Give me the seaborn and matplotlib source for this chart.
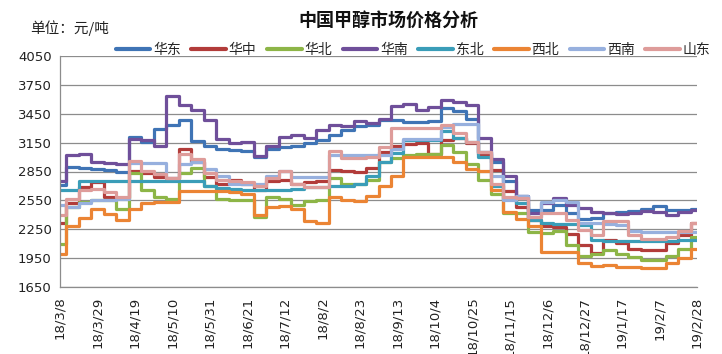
import pandas as pd
import matplotlib
matplotlib.use("Agg")
import matplotlib.pyplot as plt
from matplotlib.lines import Line2D
import seaborn as sns

# Weekly methanol prices by region (yuan/ton), Thursdays 2018-03-08 .. 2019-02-28
week_start = "2018-03-08"
week_end = "2019-02-28"

regions = ["华东", "华中", "华北", "华南", "东北", "西北", "西南", "山东"]

huadong = [2710, 2900, 2890, 2880, 2870, 2850, 3210, 3160, 3290, 3330,
           3380, 3170, 3120, 3080, 3070, 3060, 3000, 3080, 3100, 3110,
           3150, 3180, 3230, 3280, 3320, 3330, 3390, 3380, 3360, 3360,
           3370, 3510, 3480, 3400, 3050, 2950, 2750, 2600, 2450, 2450,
           2500, 2420, 2360, 2370, 2420, 2430, 2440, 2460, 2490, 2450,
           2450, 2460]
huazhong = [2320, 2520, 2690, 2740, 2580, 2570, 2860, 2830, 2790, 2780,
            3080, 2950, 2790, 2720, 2760, 2720, 2660, 2750, 2760, 2720,
            2740, 2750, 2870, 2860, 2850, 2890, 3050, 3110, 3140, 3150,
            3030, 3180, 3200, 3150, 3030, 2870, 2650, 2480, 2350, 2280,
            2270, 2200, 2090, 2000, 2140, 2110, 2040, 2030, 2030, 2110,
            2190, 2320]
huabei = [2100, 2480, 2530, 2550, 2550, 2460, 2830, 2660, 2590, 2560,
          2830, 2890, 2700, 2560, 2550, 2550, 2380, 2580, 2560, 2500,
          2540, 2550, 2780, 2720, 2720, 2760, 2950, 2990, 3020, 3030,
          3030, 3130, 3050, 2930, 2760, 2620, 2420, 2420, 2220, 2210,
          2230, 2090, 1970, 1990, 2030, 1990, 1960, 1930, 1930, 1970,
          2040, 2170]
huanan = [2750, 3020, 3030, 2950, 2940, 2930, 3190, 3180, 3110, 3630,
          3540, 3490, 3380, 3190, 3150, 3160, 3010, 3120, 3210, 3230,
          3200, 3280, 3330, 3320, 3370, 3350, 3400, 3530, 3550, 3490,
          3520, 3590, 3570, 3540, 3200, 2980, 2800, 2600, 2420, 2520,
          2570, 2500, 2470, 2430, 2420, 2410, 2420, 2440, 2430, 2400,
          2430, 2450]
dongbei = [2660, 2660, 2750, 2750, 2750, 2750, 2750, 2750, 2750, 2750,
           2750, 2750, 2700, 2680, 2670, 2660, 2660, 2660, 2660, 2670,
           2690, 2690, 2700, 2700, 2720, 2800, 2950, 3040, 3180, 3180,
           3180, 3270, 3200, 3160, 3000, 2700, 2560, 2520, 2350, 2310,
           2300, 2300, 2290, 2140, 2130, 2130, 2130, 2130, 2130, 2130,
           2140, 2140]
xibei = [1990, 2280, 2370, 2460, 2410, 2350, 2460, 2520, 2530, 2530,
         2650, 2650, 2650, 2650, 2640, 2620, 2400, 2480, 2490, 2460,
         2340, 2310, 2590, 2550, 2540, 2600, 2700, 2800, 3000, 3000,
         3000, 3000, 2950, 2880, 2860, 2660, 2430, 2360, 2280, 2010,
         2010, 2010, 1900, 1870, 1880, 1860, 1860, 1850, 1850, 1900,
         1950, 2050]
xinan = [2500, 2480, 2520, 2550, 2550, 2560, 2940, 2940, 2940, 2780,
         2930, 2950, 2880, 2800, 2720, 2720, 2720, 2800, 2860, 2790,
         2790, 2790, 3020, 3020, 3020, 3020, 3020, 3080, 3190, 3190,
         3190, 3310, 3340, 3340, 3050, 2800, 2550, 2600, 2380, 2530,
         2550, 2530, 2320, 2310, 2300, 2290, 2230, 2220, 2220, 2220,
         2220, 2220]
shandong = [2400, 2560, 2660, 2670, 2640, 2580, 2960, 2860, 2820, 2780,
            3030, 2980, 2830, 2760, 2750, 2740, 2700, 2780, 2860, 2720,
            2690, 2690, 3060, 2990, 2990, 3000, 3100, 3300, 3300, 3300,
            3300, 3330, 3250, 3160, 3050, 2720, 2580, 2570, 2380, 2420,
            2420, 2350, 2240, 2190, 2340, 2340, 2190, 2150, 2150, 2170,
            2230, 2310]

tick_labels = ["18/3/8", "18/3/29", "18/4/19", "18/5/10", "18/5/31", "18/6/21",
               "18/7/12", "18/8/2", "18/8/23", "18/9/13", "18/10/4", "18/10/25",
               "18/11/15", "18/12/6", "18/12/27", "19/1/17", "19/2/7", "19/2/28"]
y_ticks = [1650, 1950, 2250, 2550, 2850, 3150, 3450, 3750, 4050]

colors = ["#3F74B5", "#B23C3A", "#8DB547", "#6F4F9A",
          "#3A9DB8", "#EB8434", "#97B0DE", "#DE9C9A"]

series = [huadong, huazhong, huabei, huanan, dongbei, xibei, xinan, shandong]
dates = pd.date_range(week_start, week_end, freq="7D")
frames = [pd.DataFrame({"日期": dates, "地区": name, "价格": vals})
          for name, vals in zip(regions, series)]
df = pd.concat(frames, ignore_index=True)

sns.set_style("white")
cjk = ["Noto Sans CJK SC", "DejaVu Sans"]
plt.rcParams["font.family"] = cjk

fig = plt.figure(figsize=(7.22, 3.54), dpi=100)
ax = fig.add_axes([60 / 722, 1 - 287 / 354, 637 / 722, 231 / 354])

sns.lineplot(data=df, x="日期", y="价格", hue="地区", hue_order=regions,
             palette=colors, linewidth=2.3, drawstyle="steps-mid",
             legend=False, ax=ax)

ax.set_xlim(pd.Timestamp(week_start), pd.Timestamp(week_end))
ax.set_ylim(y_ticks[0], y_ticks[-1])
ax.set_yticks(y_ticks)
ax.set_yticklabels([str(v) for v in y_ticks], fontsize=9.5, family="DejaVu Sans")
tick_pos = [pd.to_datetime(t, format="%y/%m/%d") for t in tick_labels]
ax.set_xticks(tick_pos)
ax.set_xticklabels(tick_labels, rotation=90, fontsize=9.5, family="DejaVu Sans")
ax.set_xlabel("")
ax.set_ylabel("")

ax.grid(axis="y", color="#8C8C8C", linewidth=0.9)
ax.grid(axis="x", visible=False)
for side in ("top", "right"):
    ax.spines[side].set_visible(False)
for side in ("left", "bottom"):
    ax.spines[side].set_color("#8C8C8C")
    ax.spines[side].set_linewidth(0.9)
ax.tick_params(axis="y", direction="out", length=4, width=0.8,
               color="#8C8C8C", pad=2, labelcolor="#222222")
ax.tick_params(axis="x", direction="out", length=4, width=0.8,
               color="#8C8C8C", pad=3, labelcolor="#222222")

fig.text(388 / 722, 1 - 21 / 354, "中国甲醇市场价格分析", ha="center", va="center",
         fontsize=13, fontweight="bold", family=cjk, color="#111111")
fig.text(30 / 722, 1 - 28 / 354, "单位：元/吨", ha="left", va="center",
         fontsize=10.5, family=cjk, color="#222222")

handles = [Line2D([0], [0], color=c, linewidth=3) for c in colors]
fig.legend(handles, regions, loc="center", ncol=8,
           bbox_to_anchor=(413 / 722, 1 - 50 / 354), frameon=False,
           fontsize=10, handlelength=2.5, handletextpad=0.2,
           columnspacing=0.75, borderpad=0, borderaxespad=0)

fig.savefig("out.png", dpi=100)
